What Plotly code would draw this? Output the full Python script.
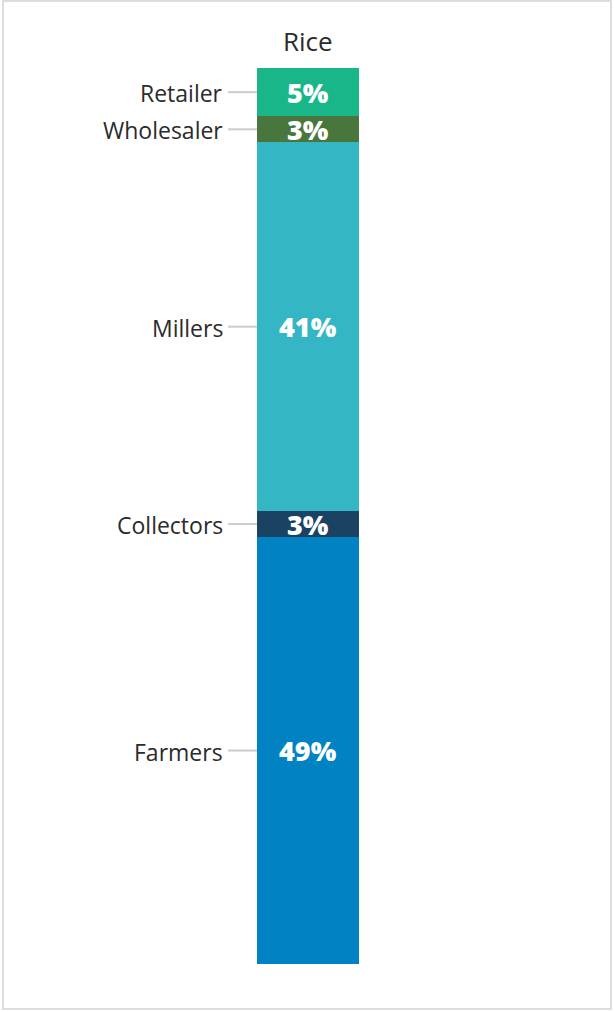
import plotly.graph_objects as go

# Data (bottom to top)
categories = ["Farmers", "Collectors", "Millers", "Wholesaler", "Retailer"]
shares = [47.7, 2.9, 41.2, 2.9, 5.4]          # segment sizes
share_labels = ["49%", "3%", "41%", "3%", "5%"]  # printed labels
colors = ["#0082c3", "#1a4263", "#35b6c4", "#48763c", "#19b68a"]
bar_name = "Rice"

W, H = 614, 1012
ML, MR, MT, MB = 257, 255, 68, 48
PW, PH = W - ML - MR, H - MT - MB

def px_x(p):
    return (p - ML) / PW

def px_y(p):
    return (H - MB - p) / PH

fig = go.Figure()
for cat, val, col in zip(categories, shares, colors):
    fig.add_trace(go.Bar(
        x=[bar_name], y=[val], name=cat, marker=dict(color=col, line=dict(width=0)),
        width=1, hoverinfo="name+y",
    ))

total = sum(shares)
annotations = []
shapes = []
cum = 0
for cat, val, lab in zip(categories, shares, share_labels):
    mid = cum + val / 2
    cum += val
    annotations.append(dict(
        x=0.5, xref="paper", y=mid, yref="y", text=lab,
        showarrow=False, font=dict(family="Open Sans", size=27, color="white", weight=800),
        xanchor="center", yanchor="middle",
    ))
    annotations.append(dict(
        x=0, xref="paper", y=mid, yref="y", text=cat, showarrow=False,
        font=dict(family="Open Sans", size=23, color="#2b2b2b"),
        xanchor="right", yanchor="middle", xshift=-32, yshift=-1,
    ))
    shapes.append(dict(
        type="line", xref="paper", yref="y", x0=px_x(228), x1=0, y0=mid, y1=mid,
        line=dict(color="#cccccc", width=2),
    ))

annotations.append(dict(
    x=0.5, xref="paper", y=1, yref="paper", text=bar_name, showarrow=False,
    font=dict(family="Open Sans", size=26, color="#2b2b2b"),
    xanchor="center", yanchor="bottom", yshift=7,
))

shapes.append(dict(
    type="rect", xref="paper", yref="paper",
    x0=px_x(3), x1=px_x(611), y0=px_y(1), y1=px_y(1009),
    line=dict(color="#dddddd", width=2), fillcolor="rgba(0,0,0,0)", layer="below",
))

fig.update_layout(
    width=W, height=H, barmode="stack", showlegend=False,
    margin=dict(l=ML, r=MR, t=MT, b=MB, pad=0),
    paper_bgcolor="white", plot_bgcolor="white",
    xaxis=dict(visible=False, range=[-0.5, 0.5]),
    yaxis=dict(visible=False, range=[0, total]),
    annotations=annotations, shapes=shapes,
    font=dict(family="Open Sans"),
)

fig.write_html(
    "out.html", config={"displayModeBar": False},
    post_script="document.body.style.margin='0';document.body.style.padding='0';document.body.style.overflow='hidden';",
)
